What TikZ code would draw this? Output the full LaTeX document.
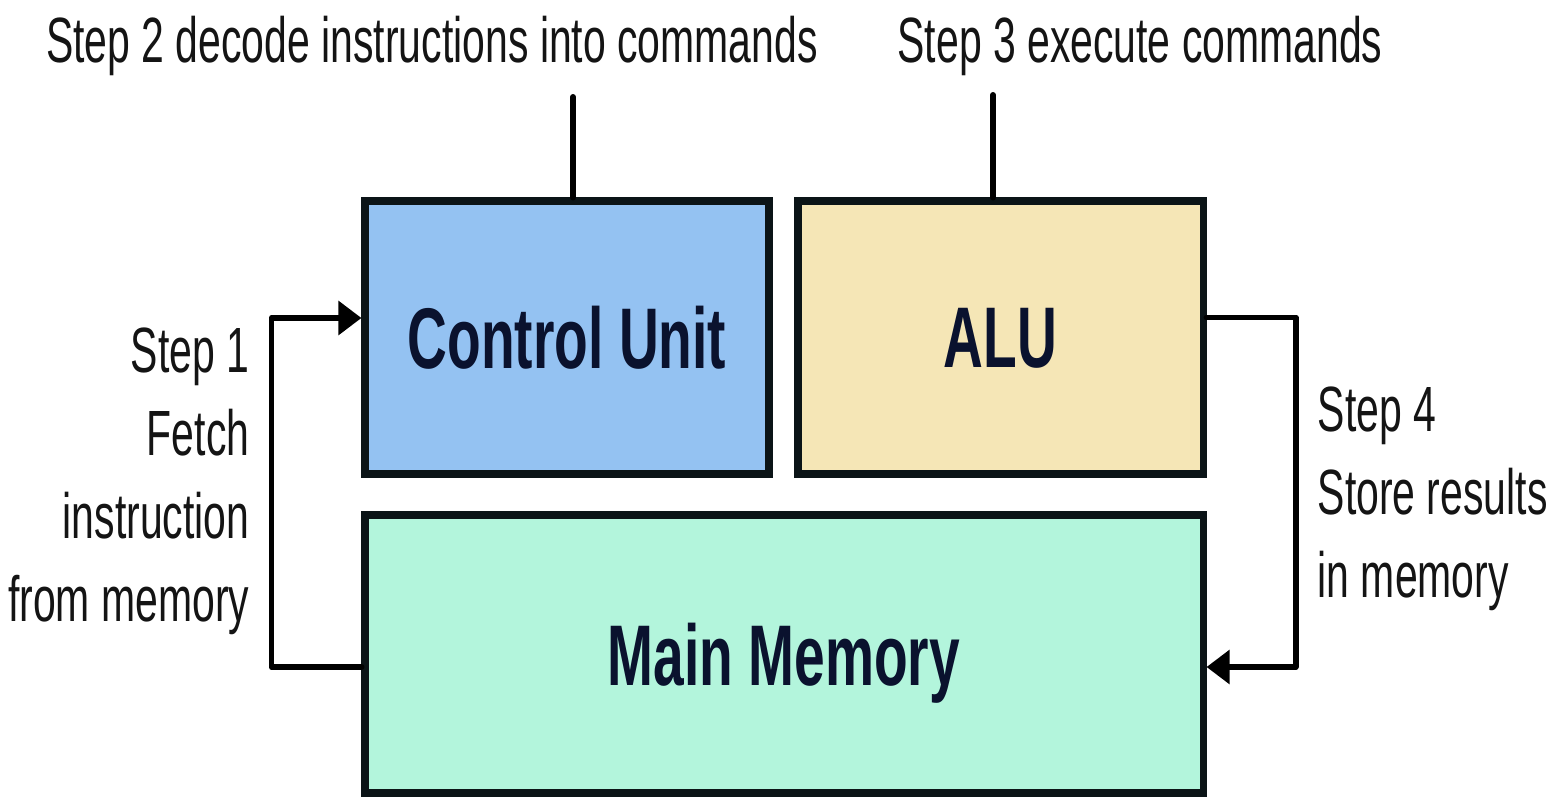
\documentclass[tikz,border=0pt]{standalone}
\usepackage{fontspec}
\setmainfont[FakeStretch=0.64]{Liberation Sans}
\usepackage{tikz}
\usetikzlibrary{arrows.meta}

\definecolor{cublue}{HTML}{94C2F2}
\definecolor{alusand}{HTML}{F5E6B6}
\definecolor{memgreen}{HTML}{B3F5DC}
\definecolor{edge}{HTML}{0B1417}

\begin{document}
\begin{tikzpicture}[
    every node/.style={font=\fontsize{18.2}{23.6}\selectfont, inner sep=0pt, text=black!92},
    unit/.style={draw=edge, line width=2pt, text depth=0pt, font=\fontsize{24.5}{28}\selectfont\bfseries, text=edge!90!blue},
    link/.style={line width=1.7pt, line cap=round, line join=round},
    arrow/.style={link, -{Triangle[length=2.3mm, width=3.3mm]}}
  ]

  \useasboundingbox (0,0) rectangle (15.62,7.96);

  \node[unit, fill=cublue, minimum width=4.04cm, minimum height=2.73cm] (cu) at (5.67,4.585) {Control Unit};
  \node[unit, fill=alusand, minimum width=4.05cm, minimum height=2.73cm] (alu) at (10.005,4.585) {ALU};
  \node[unit, fill=memgreen, minimum width=8.38cm, minimum height=2.78cm] (mm) at (7.84,1.42) {Main Memory};


  \node[anchor=base] (decode) at (4.32,7.33) {Step 2 decode instructions into commands};
  \node[anchor=base] (execute) at (11.40,7.33) {Step 3 execute commands};
  \coordinate (decodeend) at (5.73,6.99);
  \coordinate (executeend) at (9.93,7.01);
  \draw[link] (decodeend) -- (decodeend |- cu.north);
  \draw[link] (executeend) -- (executeend |- alu.north);

  % fetch and store loops
  \draw[arrow] ([yshift=-1.3mm]mm.west) -- ++(-0.9,0) |- ([yshift=1.95mm]cu.west);
  \draw[arrow] ([yshift=2mm]alu.east) -- ++(0.89,0) |- ([yshift=-1.3mm]mm.east);

  \node[anchor=north east, align=right] (fetch) at (2.50,4.69) {Step 1\\Fetch\\instruction\\from memory};
  \node[anchor=north west, align=left] (store) at (13.17,4.10) {Step 4\\Store results\\in memory};
\end{tikzpicture}
\end{document}
